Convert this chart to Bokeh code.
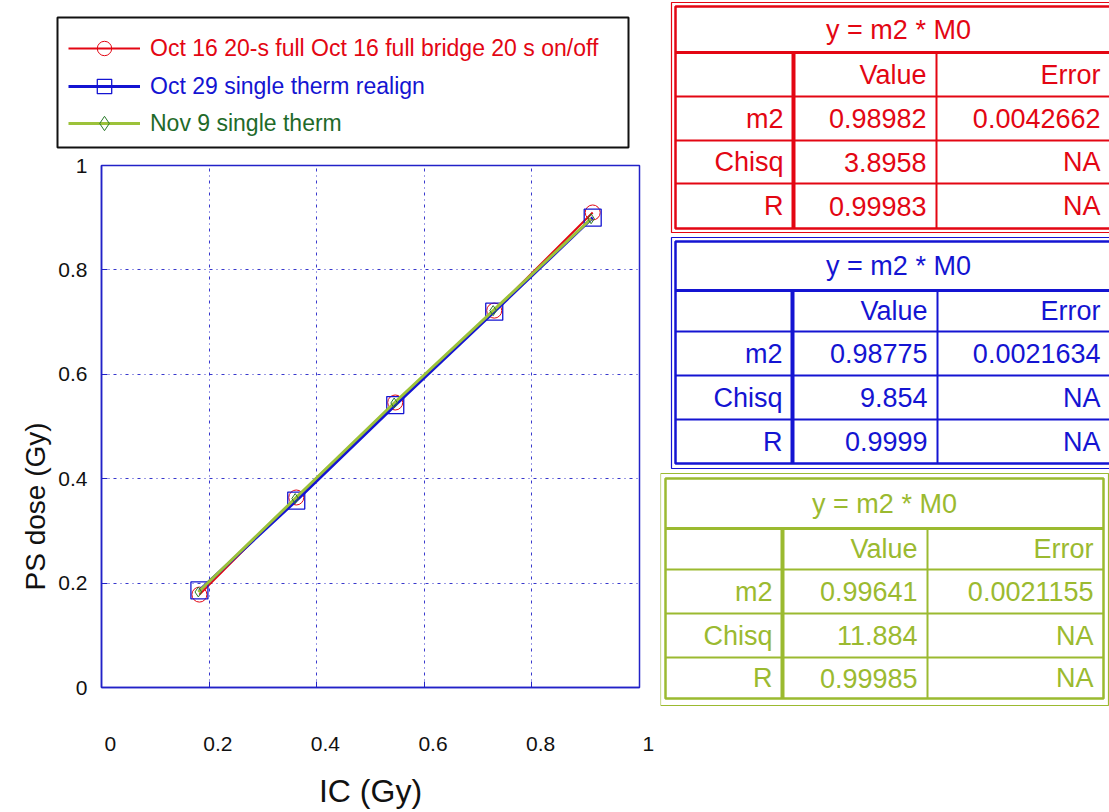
from bokeh.plotting import figure
from bokeh.models import (Range1d, Legend, LegendItem, Title, FixedTicker, ColumnDataSource)
from bokeh.layouts import row, column
from bokeh.embed import file_html
from bokeh.resources import INLINE
from bokeh.core.properties import value

# ---------------- data ----------------
series_names = ["Oct 16 20-s full Oct 16 full bridge 20 s on/off",
                "Oct 29 single therm realign",
                "Nov 9 single therm"]
ic_oct16 = [0.182, 0.362, 0.546, 0.730, 0.913]
ps_oct16 = [0.178, 0.364, 0.546, 0.722, 0.910]
ic_oct29 = [0.182, 0.362, 0.546, 0.730, 0.913]
ps_oct29 = [0.186, 0.358, 0.541, 0.720, 0.900]
ic_nov9 = [0.180, 0.360, 0.544, 0.728, 0.910]
ps_nov9 = [0.183, 0.362, 0.545, 0.722, 0.898]

x_ticks = [0, 0.2, 0.4, 0.6, 0.8, 1]
x_tick_labels = ["0", "0.2", "0.4", "0.6", "0.8", "1"]
y_ticks = [0, 0.2, 0.4, 0.6, 0.8, 1]
x_title = "IC (Gy)"
y_title = "PS dose (Gy)"

fit_title = "y = m2 * M0"
fit_col_heads = ["Value", "Error"]
fit_row_labels = ["m2", "Chisq", "R"]
fit_values_oct16 = ["0.98982", "3.8958", "0.99983"]
fit_errors_oct16 = ["0.0042662", "NA", "NA"]
fit_values_oct29 = ["0.98775", "9.854", "0.9999"]
fit_errors_oct29 = ["0.0021634", "NA", "NA"]
fit_values_nov9 = ["0.99641", "11.884", "0.99985"]
fit_errors_nov9 = ["0.0021155", "NA", "NA"]

# ---------------- styles ----------------
FONT = "Liberation Sans"
RED = "#e30613"
BLUE = "#1414d2"
GREEN_LINE = "#9cc23a"
DK_GREEN = "#2a7a2a"
GREEN_TEXT = "#1f6a2a"
TABLE_GREEN = "#9bba30"
FRAME_BLUE = "#2222c8"

H = 812
W_MAIN = 660
W_TAB = 1109 - W_MAIN
H_LEG = 150
FRAME_L, FRAME_R, FRAME_T, FRAME_B = 101, 639, 165, 687

RED_STYLE = dict(line=dict(line_color=RED, line_width=2),
                 mark=dict(marker="circle", size=15, fill_color=None, line_color=RED, line_width=1))
BLUE_STYLE = dict(line=dict(line_color=BLUE, line_width=3),
                  mark=dict(marker="square", size=17, fill_color=None, line_color=BLUE, line_width=1.3))
GREEN_STYLE = dict(line=dict(line_color=GREEN_LINE, line_width=3),
                   mark=dict(marker="diamond", size=10, fill_color=None, line_color=DK_GREEN, line_width=1))
series = [(ic_oct16, ps_oct16, RED_STYLE, RED),
          (ic_oct29, ps_oct29, BLUE_STYLE, BLUE),
          (ic_nov9, ps_nov9, GREEN_STYLE, GREEN_TEXT)]

# ---------------- main chart ----------------
p = figure(width=W_MAIN, height=H - H_LEG, x_range=Range1d(0, 1), y_range=Range1d(0, 1),
           output_backend="svg", toolbar_location=None, frame_align=False,
           min_border_left=FRAME_L, min_border_right=W_MAIN - FRAME_R,
           min_border_top=FRAME_T - H_LEG, min_border_bottom=H - FRAME_B)
p.outline_line_color = FRAME_BLUE
p.outline_line_width = 1.5

for ax in (p.xaxis[0], p.yaxis[0]):
    ax.axis_line_color = FRAME_BLUE
    ax.axis_line_width = 1.5
    ax.major_tick_line_color = FRAME_BLUE
    ax.major_tick_in = 6
    ax.major_tick_out = 0
    ax.minor_tick_line_color = None
    ax.major_label_text_font = FONT
    ax.major_label_text_font_size = "21px"
    ax.major_label_text_color = "#111111"
p.xaxis.ticker = FixedTicker(ticks=x_ticks, minor_ticks=[])
p.yaxis.ticker = FixedTicker(ticks=y_ticks, minor_ticks=[])
# the original draws its x tick labels a little right of each tick
p.xaxis.major_label_overrides = {t_: "\u00a0\u00a0\u00a0" + s for t_, s in zip(x_ticks, x_tick_labels)}
p.xaxis.major_label_standoff = 44
p.xaxis.axis_label = x_title
p.xaxis.axis_label_text_font = FONT
p.xaxis.axis_label_text_font_size = "32px"
p.xaxis.axis_label_text_font_style = "normal"
p.xaxis.axis_label_text_color = "#111111"
p.xaxis.axis_label_standoff = 15
p.yaxis.major_label_standoff = 14

p.add_layout(Title(text=y_title, align="left", offset=97, text_font=FONT,
                   text_font_size="28px", text_font_style="normal",
                   text_color="#111111"), "left")

p.xgrid.ticker = FixedTicker(ticks=x_ticks, minor_ticks=[])
p.ygrid.ticker = FixedTicker(ticks=y_ticks, minor_ticks=[])
p.grid.grid_line_color = FRAME_BLUE
p.grid.grid_line_dash = "3 4 1 4"
p.grid.grid_line_width = 1
p.grid.grid_line_alpha = 0.9

for xs_, ys_, sty, _ in series:
    p.line(xs_, ys_, **sty["line"])
    p.scatter(xs_, ys_, **sty["mark"])

# ---------------- legend panel ----------------
pl = figure(width=W_MAIN, height=H_LEG, x_range=Range1d(0, W_MAIN), y_range=Range1d(H_LEG, 0),
            output_backend="svg", toolbar_location=None, frame_align=False,
            min_border=0, x_axis_type=None, y_axis_type=None, outline_line_color=None)
pl.grid.visible = False
# the series are bound to an off-canvas range here: only their legend glyphs show
pl.extra_x_ranges = {"off": Range1d(-10, -9)}
pl.quad(left=[57], right=[628], top=[17], bottom=[147], fill_color=None,
        line_color="#111111", line_width=2)

LEG_X = 68
LEG_ROW_Y = [48, 86, 123]
GLYPH_H = 36
for (name, (xs_, ys_, sty, col), yc) in zip(series_names, series, LEG_ROW_Y):
    rl = pl.line(xs_, ys_, x_range_name="off", **sty["line"])
    rm = pl.scatter(xs_, ys_, x_range_name="off", **sty["mark"])
    lg = Legend(items=[LegendItem(label=name, renderers=[rl, rm])],
                location=(LEG_X, H_LEG - (yc + GLYPH_H / 2)),
                padding=0, margin=0, spacing=0,
                border_line_color=None, background_fill_alpha=0,
                glyph_width=72, glyph_height=GLYPH_H, label_height=GLYPH_H,
                label_standoff=10, label_text_font=FONT,
                label_text_font_size="23px", label_text_color=col)
    pl.add_layout(lg)

# ---------------- fit tables ----------------
t = figure(width=W_TAB, height=H, x_range=Range1d(W_MAIN, 1109), y_range=Range1d(H, 0),
           output_backend="svg", toolbar_location=None, min_border=0, frame_align=False,
           x_axis_type=None, y_axis_type=None, outline_line_color=None)
t.grid.visible = False

tables = [
    dict(color=RED, values=fit_values_oct16, errors=fit_errors_oct16,
         outer=(671, 2, 1125, 232), inner=(675, 6, 1121, 228),
         hlines=[52, 96, 140, 183], cols=[793, 936]),
    dict(color=BLUE, values=fit_values_oct29, errors=fit_errors_oct29,
         outer=(671, 237, 1125, 468), inner=(675, 241, 1121, 463),
         hlines=[290, 331, 375, 419], cols=[792, 937]),
    dict(color=TABLE_GREEN, values=fit_values_nov9, errors=fit_errors_nov9,
         outer=(660, 473, 1108, 705), inner=(665, 478, 1103, 698),
         hlines=[528, 569, 613, 657], cols=[782, 927]),
]

for tb in tables:
    c = tb["color"]
    ol, ot, orr, ob = tb["outer"]
    il, it, ir, ib = tb["inner"]
    t.quad(left=[ol], right=[orr], top=[ot], bottom=[ob], fill_color=None,
           line_color=c, line_width=1.2)
    t.quad(left=[il], right=[ir], top=[it], bottom=[ib], fill_color=None,
           line_color=c, line_width=2.5)
    hl = tb["hlines"]
    t.segment(x0=[il] * 4, x1=[ir] * 4, y0=hl, y1=hl, line_color=c, line_width=[3, 2, 2, 2])
    c1, c2 = tb["cols"]
    t.segment(x0=[c1, c2], x1=[c1, c2], y0=[hl[0], hl[0]], y1=[ib, ib],
              line_color=c, line_width=[4, 2])
    row_bounds = [it] + hl + [ib]
    centers = [(row_bounds[i] + row_bounds[i + 1]) / 2 for i in range(5)]
    text_right = min(ir, 1110)
    xs, ys, txt, aligns = [], [], [], []
    xs.append((il + ir) / 2); ys.append(centers[0]); txt.append(fit_title); aligns.append("center")
    for k, h in enumerate(fit_col_heads):
        xs.append([c2, text_right][k] - 10); ys.append(centers[1]); txt.append(h); aligns.append("right")
    for r, lab in enumerate(fit_row_labels):
        y = centers[2 + r]
        for x, s in ((c1 - 10, lab), (c2 - 10, tb["values"][r]), (text_right - 10, tb["errors"][r])):
            xs.append(x); ys.append(y); txt.append(s); aligns.append("right")
    src = ColumnDataSource(dict(x=xs, y=ys, text=txt, align=aligns))
    t.text(x="x", y="y", text="text", source=src, text_align="align",
           text_baseline="middle", text_font=value(FONT), text_font_size="27px",
           text_color=c)

layout = row(column(pl, p, spacing=0), t, spacing=0)

with open("out.html", "w") as f:
    f.write(file_html(layout, INLINE))
